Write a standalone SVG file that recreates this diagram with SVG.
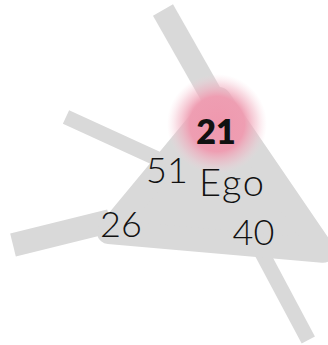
<svg xmlns="http://www.w3.org/2000/svg" width="328" height="345" viewBox="0 0 328 345">
  <defs>
    <radialGradient id="glow" cx="0.5" cy="0.5" r="0.5">
      <stop offset="0" stop-color="#ef98ae" stop-opacity="1"/>
      <stop offset="0.55" stop-color="#ef9cb1" stop-opacity="0.97"/>
      <stop offset="0.8" stop-color="#f2b3c3" stop-opacity="0.45"/>
      <stop offset="1" stop-color="#f7d0da" stop-opacity="0"/>
    </radialGradient>
  </defs>
  <style>
    .band { stroke: #d9d9d9; stroke-linecap: butt; fill: none; }
    .hull { fill: #d9d9d9; stroke: #d9d9d9; stroke-width: 24; stroke-linejoin: round; }
    .lbl { font-family: Lato, "Liberation Sans", sans-serif; font-size: 36px; font-weight: 300; fill: #111; text-anchor: middle; }
    .bold { font-weight: 800; font-size: 34px; }
    .ego { font-size: 38px; text-anchor: start; }
  </style>
  <g id="connectors">
    <line class="band" x1="163" y1="10" x2="226" y2="121" stroke-width="23"/>
    <line class="band" x1="66" y1="117" x2="160" y2="160" stroke-width="15"/>
    <line class="band" x1="13" y1="245" x2="110" y2="221" stroke-width="23.5"/>
    <line class="band" x1="308.3" y1="340" x2="255" y2="240" stroke-width="15"/>
  </g>
  <g id="hull">
    <polygon class="hull" points="219.1,99 108.8,232 322.8,250.8"/>
  </g>
  <g id="n21">
    <circle cx="217" cy="124" r="50" fill="url(#glow)"/>
    <text class="lbl bold" x="216" y="144">21</text>
  </g>
  <g id="n51">
    <text class="lbl" x="167" y="183">51</text>
  </g>
  <g id="nEgo">
    <text class="lbl ego" x="199" y="195.5" textLength="65">Ego</text>
  </g>
  <g id="n26">
    <text class="lbl" x="121" y="236.5">26</text>
  </g>
  <g id="n40">
    <text class="lbl" x="253.5" y="245">40</text>
  </g>
</svg>
